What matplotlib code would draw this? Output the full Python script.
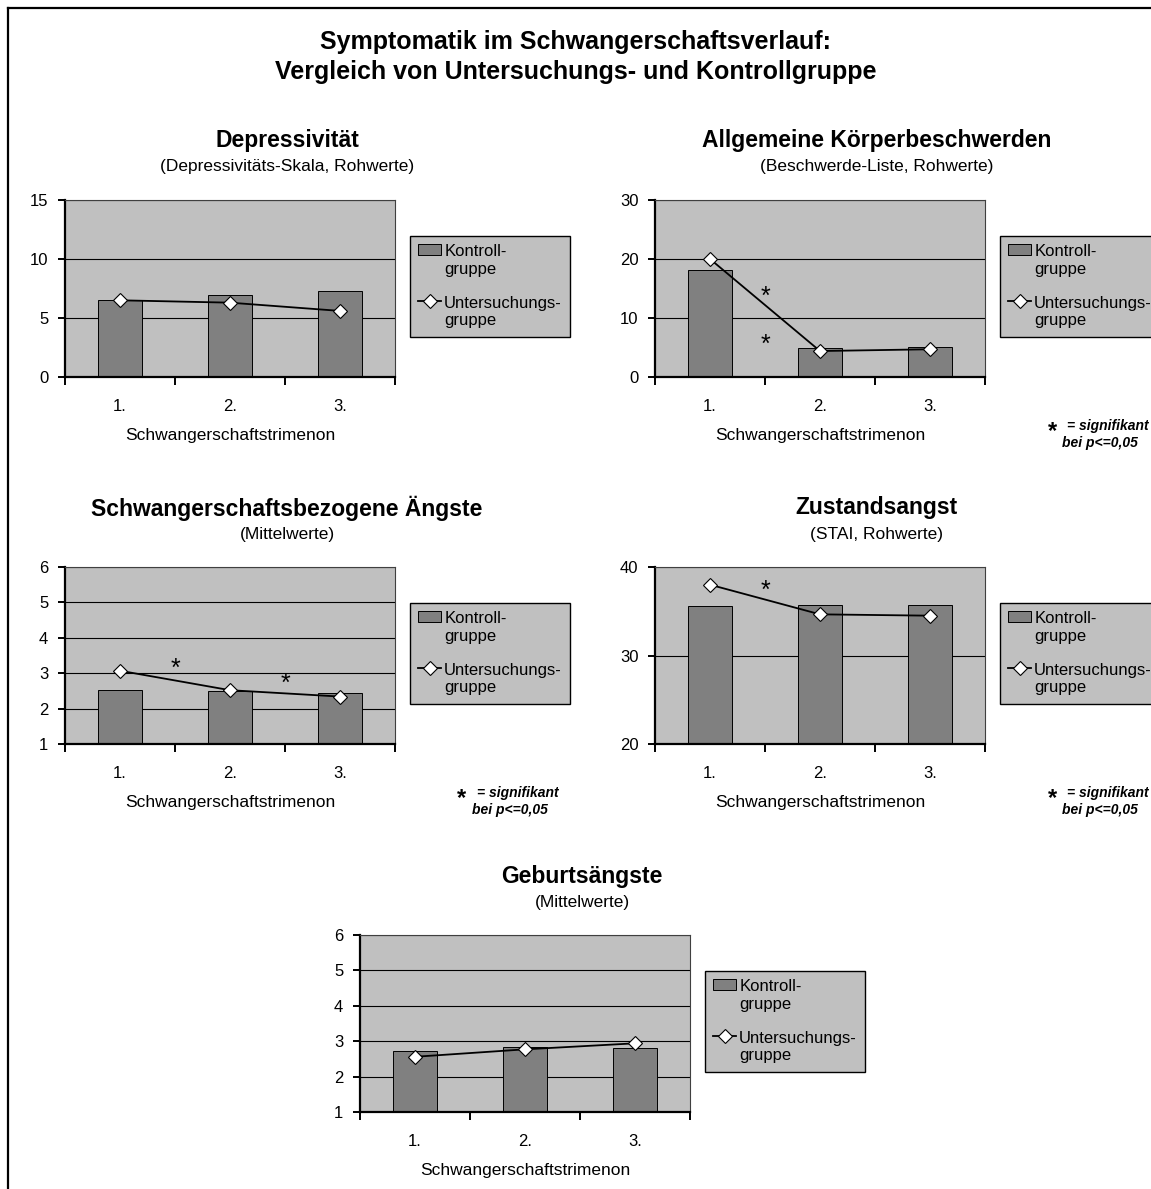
import matplotlib
matplotlib.use("Agg")
import matplotlib.pyplot as plt
from matplotlib.lines import Line2D
import numpy as np

plt.rcParams["font.family"] = ["Liberation Sans", "DejaVu Sans"]

W, H = 1151, 1189

trimester = ["1.", "2.", "3."]
legend_labels = ["Kontroll-\ngruppe", "Untersuchungs-\ngruppe"]

# Depressivität (Depressivitäts-Skala)
dep_kontroll = [6.55, 6.95, 7.3]
dep_unters = [6.5, 6.3, 5.6]

# Allgemeine Körperbeschwerden (Beschwerde-Liste)
koerper_kontroll = [18.1, 4.9, 5.1]
koerper_unters = [20.0, 4.4, 4.7]

# Schwangerschaftsbezogene Ängste
angst_kontroll = [2.53, 2.51, 2.45]
angst_unters = [3.07, 2.52, 2.34]

# Zustandsangst (STAI)
stai_kontroll = [35.6, 35.75, 35.65]
stai_unters = [38.0, 34.65, 34.5]

# Geburtsängste
geburt_kontroll = [2.72, 2.83, 2.81]
geburt_unters = [2.56, 2.77, 2.94]

PLOT_BG = "#c0c0c0"
BAR_COLOR = "#808080"

fig = plt.figure(figsize=(W / 100, H / 100), dpi=100)
fig.patch.set_facecolor("white")


def fx(px):
    return px / W


def fy(py):
    return 1 - py / H


# outer frame (left and top edges)
fig.add_artist(Line2D([fx(8), fx(8)], [fy(8), fy(H + 5)], color="black", lw=1.6))
fig.add_artist(Line2D([fx(8), fx(W + 5)], [fy(8), fy(8)], color="black", lw=1.6))

fig.text(fx(576), fy(42), "Symptomatik im Schwangerschaftsverlauf:",
         ha="center", va="center", fontsize=18, fontweight="bold")
fig.text(fx(576), fy(72), "Vergleich von Untersuchungs- und Kontrollgruppe",
         ha="center", va="center", fontsize=18, fontweight="bold")


def panel(left, top, title, subtitle, kontroll, unters, ylim, yticks,
          stars=(), note=False):
    width, height = 330, 177
    ax = fig.add_axes([fx(left), fy(top + height), width / W, height / H])
    ax.set_facecolor(PLOT_BG)
    x = np.arange(len(trimester))

    bars = ax.bar(x, kontroll, width=0.4, color=BAR_COLOR, edgecolor="black",
                  linewidth=0.7, zorder=2)
    line, = ax.plot(x, unters, color="black", lw=1.3, marker="D",
                    markersize=7, markerfacecolor="white",
                    markeredgecolor="black", markeredgewidth=0.8, zorder=3)

    ax.set_xlim(-0.5, 2.5)
    ax.set_ylim(*ylim)
    ax.set_yticks(yticks)
    ax.yaxis.grid(True, color="black", lw=0.8, zorder=1)
    ax.set_axisbelow(True)

    ax.set_xticks([-0.5, 0.5, 1.5, 2.5])
    ax.set_xticklabels([])
    ax.set_xticks(x, trimester, minor=True)
    ax.tick_params(axis="x", which="major", direction="out", length=6,
                   width=1.4)
    ax.tick_params(axis="x", which="minor", length=0, pad=16, labelsize=12)
    ax.tick_params(axis="y", direction="out", length=5, width=1.4, pad=7,
                   labelsize=12)

    for side in ["left", "bottom"]:
        ax.spines[side].set_linewidth(1.6)
        ax.spines[side].set_color("black")
    for side in ["top", "right"]:
        ax.spines[side].set_linewidth(0.8)
        ax.spines[side].set_color("#404040")

    ax.set_xlabel("Schwangerschaftstrimenon", fontsize=12.5, labelpad=10)

    for sx, sy in stars:
        ax.text(sx, sy, "*", ha="center", va="center", fontsize=18)

    fig.text(fx(left + 222), fy(top - 59), title, ha="center", va="center",
             fontsize=16.5, fontweight="bold")
    fig.text(fx(left + 222), fy(top - 33), subtitle, ha="center",
             va="center", fontsize=12.5)

    leg = ax.legend([bars, line], legend_labels, loc="upper left",
                    bbox_to_anchor=(fx(left + 345), fy(top + 36)),
                    bbox_transform=fig.transFigure, fontsize=12,
                    frameon=True, fancybox=False, framealpha=1,
                    facecolor=PLOT_BG, edgecolor="black", borderaxespad=0,
                    borderpad=0.5, labelspacing=1.15, handlelength=1.35,
                    handletextpad=0.2, handleheight=0.6)
    leg.get_frame().set_linewidth(1.0)
    # put each handle level with the first line of its label
    for col in leg._legend_handle_box.get_children():
        for row in col.get_children():
            row.align = "top"

    if note:
        fig.text(fx(left + 397), fy(top + 232), "*", ha="center",
                 va="center", fontsize=17, fontweight="bold")
        fig.text(fx(left + 412), fy(top + 226), "= signifikant", ha="left",
                 va="center", fontsize=10, fontweight="bold", style="italic")
        fig.text(fx(left + 407), fy(top + 243), "bei p<=0,05", ha="left",
                 va="center", fontsize=10, fontweight="bold", style="italic")
    return ax


panel(65, 200, "Depressivität", "(Depressivitäts-Skala, Rohwerte)",
      dep_kontroll, dep_unters, (0, 15), [0, 5, 10, 15])

panel(655, 200, "Allgemeine Körperbeschwerden",
      "(Beschwerde-Liste, Rohwerte)", koerper_kontroll, koerper_unters,
      (0, 30), [0, 10, 20, 30], stars=[(0.5, 13.6), (0.5, 5.4)], note=True)

panel(65, 567, "Schwangerschaftsbezogene Ängste", "(Mittelwerte)",
      angst_kontroll, angst_unters, (1, 6), [1, 2, 3, 4, 5, 6],
      stars=[(0.5, 3.12), (1.5, 2.70)], note=True)

panel(655, 567, "Zustandsangst", "(STAI, Rohwerte)", stai_kontroll,
      stai_unters, (20, 40), [20, 30, 40], stars=[(0.5, 37.3)], note=True)

panel(360, 935, "Geburtsängste", "(Mittelwerte)", geburt_kontroll,
      geburt_unters, (1, 6), [1, 2, 3, 4, 5, 6])

fig.savefig("out.png", dpi=100)
